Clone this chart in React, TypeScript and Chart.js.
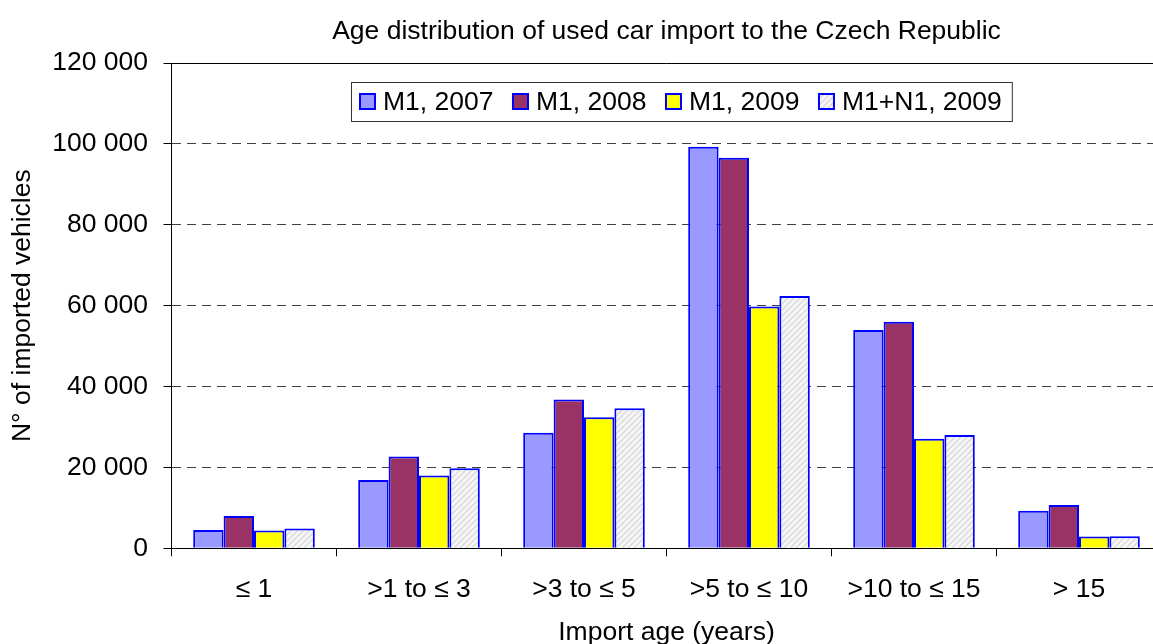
import React, { useEffect, useRef } from "react";
import { Chart, registerables } from "chart.js";

Chart.register(...registerables);

const categories = ["≤ 1", ">1 to ≤ 3", ">3 to ≤ 5", ">5 to ≤ 10", ">10 to ≤ 15", "> 15"];
const seriesLabels = ["M1, 2007", "M1, 2008", "M1, 2009", "M1+N1, 2009"];
const m1_2007 = [4500, 16900, 28600, 99300, 54000, 9300];
const m1_2008 = [8000, 22700, 36800, 96600, 56000, 10700];
const m1_2009 = [4400, 18000, 32400, 59800, 27100, 2900];
const m1n1_2009 = [4900, 19800, 34600, 62400, 28000, 3000];
const yMin = 0;
const yMax = 120000;
const yStep = 20000;
const chartTitle = "Age distribution of used car import to the Czech Republic";
const xTitle = "Import age (years)";
const yTitle = "N° of imported vehicles";

const FAMILY = "'Liberation Sans', Arial, sans-serif";
const FS = 26.5;

function makeHatch(ctx: CanvasRenderingContext2D): CanvasPattern | string {
  const c = document.createElement("canvas");
  c.width = 6;
  c.height = 6;
  const g = c.getContext("2d");
  if (!g) return "#f2f2f2";
  g.fillStyle = "#f6f6f6";
  g.fillRect(0, 0, 6, 6);
  g.strokeStyle = "#d8d8d8";
  g.lineWidth = 1.3;
  g.beginPath();
  g.moveTo(0, 6);
  g.lineTo(6, 0);
  g.moveTo(-3, 3);
  g.lineTo(3, -3);
  g.moveTo(3, 9);
  g.lineTo(9, 3);
  g.stroke();
  return ctx.createPattern(c, "repeat") || "#f2f2f2";
}

const boxLegend = {
  id: "boxLegend",
  afterDraw(chart: any) {
    const { ctx, chartArea } = chart;
    ctx.save();
    ctx.font = `${FS}px ${FAMILY}`;
    const marker = 17;
    const gapText = 7;
    const gapItem = 18.5;
    const padL = 8;
    const padR = 10;
    const h = 39;
    const items = chart.data.datasets.map((ds: any) => ({
      label: ds.label,
      fill: ds.backgroundColor,
      border: ds.borderColor,
      w: ctx.measureText(ds.label).width,
    }));
    let total = padL + padR;
    items.forEach((it: any, i: number) => {
      total += marker + gapText + it.w + (i < items.length - 1 ? gapItem : 0);
    });
    const cx = (chartArea.left + chartArea.right) / 2 + 15;
    const left = Math.round(cx - total / 2);
    const top = Math.round(chartArea.top + 18.5);
    ctx.fillStyle = "#ffffff";
    ctx.fillRect(left, top, total, h);
    ctx.strokeStyle = "#333333";
    ctx.lineWidth = 1;
    ctx.strokeRect(left + 0.5, top + 0.5, total, h);
    const cy = top + h / 2;
    let x = left + padL;
    items.forEach((it: any) => {
      ctx.fillStyle = it.fill;
      ctx.fillRect(x, cy - marker / 2, marker, marker);
      ctx.strokeStyle = it.border;
      ctx.lineWidth = 2;
      ctx.strokeRect(x + 1, cy - marker / 2 + 1, marker - 2, marker - 2);
      ctx.fillStyle = "#000";
      ctx.textBaseline = "middle";
      ctx.textAlign = "left";
      ctx.fillText(it.label, x + marker + gapText, cy + 1);
      x += marker + gapText + it.w + gapItem;
    });
    ctx.restore();
  },
};

export default function App() {
  const ref = useRef<HTMLCanvasElement | null>(null);

  useEffect(() => {
    const canvas = ref.current;
    if (!canvas) return;
    const ctx = canvas.getContext("2d");
    if (!ctx) return;
    const hatch = makeHatch(ctx);
    const fills = ["#9999FF", "#993366", "#FFFF00", hatch];
    const series = [m1_2007, m1_2008, m1_2009, m1n1_2009];

    const chart = new Chart(ctx, {
      type: "bar",
      data: {
        labels: categories,
        datasets: series.map((d, i) => ({
          label: seriesLabels[i],
          data: d,
          backgroundColor: fills[i] as any,
          borderColor: "#0000FF",
          borderWidth: 2,
          categoryPercentage: 0.737,
          barPercentage: 1.0,
        })),
      },
      options: {
        responsive: true,
        maintainAspectRatio: false,
        animation: false,
        layout: { padding: { left: 0, right: 13.5, top: 0, bottom: 0 } },
        font: { family: FAMILY, size: FS },
        color: "#000",
        plugins: {
          legend: { display: false },
          tooltip: { enabled: false },
          title: {
            display: true,
            text: chartTitle,
            fullSize: false,
            color: "#000",
            font: { family: FAMILY, size: FS, weight: "normal" },
            padding: { top: 16, bottom: 15.2 },
          },
        },
        scales: {
          x: {
            offset: true,
            grid: {
              display: true,
              offset: true,
              drawOnChartArea: false,
              drawTicks: true,
              tickLength: 8,
              color: "#000",
              tickColor: "#000",
            },
            border: { display: true, color: "#000", width: 1 },
            ticks: {
              color: "#000",
              padding: 17.5,
              font: { family: FAMILY, size: FS },
              maxRotation: 0,
              autoSkip: false,
            },
            title: {
              display: true,
              text: xTitle,
              color: "#000",
              font: { family: FAMILY, size: FS },
              padding: { top: -6.7, bottom: 1.8 },
            },
          },
          y: {
            min: yMin,
            max: yMax,
            grid: {
              display: true,
              drawTicks: true,
              tickLength: 8,
              color: (c: any) =>
                c.tick && (c.tick.value === yMax || c.tick.value === yMin) ? "#000" : "#404040",
              tickColor: "#000",
              tickBorderDash: [],
              lineWidth: 1,
            },
            border: {
              display: true,
              color: "#000",
              width: 1,
              dash: (c: any) =>
                c.type === "tick" && c.tick && c.tick.value !== yMax && c.tick.value !== yMin
                  ? [9, 6]
                  : [],
            } as any,
            ticks: {
              stepSize: yStep,
              color: "#000",
              padding: 15.5,
              font: { family: FAMILY, size: FS },
              callback: (v: any) => String(v).replace(/\B(?=(\d{3})+(?!\d))/g, " "),
            },
            title: {
              display: true,
              text: yTitle,
              color: "#000",
              font: { family: FAMILY, size: FS },
              padding: { top: 6.9, bottom: -2 },
            },
          },
        },
      },
      plugins: [boxLegend],
    });
    return () => chart.destroy();
  }, []);

  return (
    <div
      style={{
        position: "fixed",
        left: 0,
        top: 0,
        width: 1153,
        height: 644,
        overflow: "hidden",
        background: "#fff",
      }}
    >
      <div style={{ position: "relative", width: 1175, height: 650 }}>
        <canvas ref={ref} />
      </div>
    </div>
  );
}
